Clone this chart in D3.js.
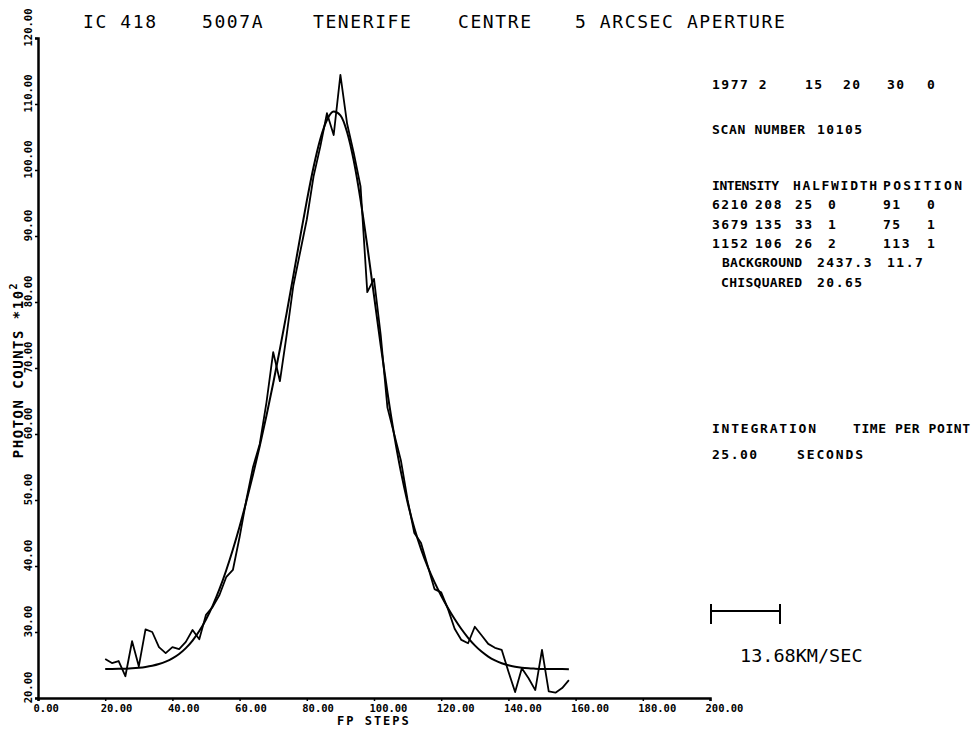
<!DOCTYPE html>
<html>
<head>
<meta charset="utf-8">
<script src="https://cdn.jsdelivr.net/npm/d3@7"></script>
<style>
  body { margin: 0; background: #fff; }
  svg { display: block; }
  text { font-family: "DejaVu Sans Mono", monospace; fill: #000; }
</style>
</head>
<body>
<svg id="chart" width="975" height="733"></svg>
<script>
// FP step positions of the scan (every 2 steps)
var fpSteps = [20, 22, 24, 26, 28, 30, 32, 34, 36, 38, 40, 42, 44, 46, 48, 50, 52, 54, 56, 58,
  60, 62, 64, 66, 68, 70, 72, 74, 76, 78, 80, 82, 84, 86, 88, 90, 92, 94, 96, 98,
  100, 102, 104, 106, 108, 110, 112, 114, 116, 118, 120, 122, 124, 126, 128, 130, 132, 134, 136, 138,
  140, 142, 144, 146, 148, 150, 152, 154, 156, 158];

var observed = [25.9, 25.3, 25.6, 23.3, 28.6, 24.8, 30.4, 30.0, 27.7, 26.8, 27.7, 27.4, 28.5, 30.3, 28.9, 32.6, 33.8, 35.6, 38.3, 39.4,
  44.4, 50.0, 55.0, 58.5, 64.8, 72.4, 68.0, 75.0, 82.5, 87.5, 92.5, 99.0, 103.5, 108.6, 105.3, 114.4, 107.0, 102.5, 97.5, 81.5,
  83.5, 75.0, 64.0, 60.0, 56.0, 50.0, 45.0, 43.5, 40.0, 36.5, 36.0, 33.5, 30.5, 28.8, 28.3, 30.8, 29.5, 28.2, 27.6, 27.3,
  24.0, 20.9, 24.5, 23.0, 21.2, 27.3, 21.0, 20.8, 21.5, 22.7];

// fitted profile (three components + background)
var fitted = [24.39, 24.40, 24.42, 24.45, 24.50, 24.58, 24.70, 24.88, 25.14, 25.50, 26.00, 26.67, 27.56, 28.70, 30.14, 31.90, 34.01, 36.48, 39.32, 42.50,
  45.99, 49.78, 53.86, 58.19, 62.78, 67.68, 72.87, 78.32, 84.00, 89.75, 95.32, 100.41, 104.65, 107.57, 108.85, 108.27, 105.72, 101.34, 95.44, 88.49,
  80.97, 73.43, 66.29, 59.87, 54.30, 49.63, 45.75, 42.55, 39.86, 37.55, 35.49, 33.64, 31.96, 30.45, 29.12, 27.98, 27.04, 26.28, 25.70, 25.26,
  24.95, 24.74, 24.59, 24.50, 24.45, 24.41, 24.39, 24.38, 24.38, 24.37];

var xTicks = [0, 20, 40, 60, 80, 100, 120, 140, 160, 180, 200];
var yTicks = [20, 30, 40, 50, 60, 70, 80, 90, 100, 110, 120];

var titleWords = ["IC 418", "5007A", "TENERIFE", "CENTRE", "5 ARCSEC APERTURE"];
var dateFields = ["1977 2", "15", "20", "30", "0"];
var tableHeader = ["INTENSITY", "HALFWIDTH", "POSITION"];
var tableRows = [
  ["6210", "208", "25", "0", "91", "0"],
  ["3679", "135", "33", "1", "75", "1"],
  ["1152", "106", "26", "2", "113", "1"]
];

var svg = d3.select("#chart");

var x = d3.scaleLinear().domain([0, 200]).range([38, 710]);
var y = d3.scaleLinear().domain([20, 120]).range([698, 38]);

// axes
var xAxis = svg.append("g")
  .attr("transform", "translate(0," + y(20) + ")")
  .call(d3.axisBottom(x).tickValues(xTicks).tickSize(3).tickFormat(d3.format(".2f")));
xAxis.select(".domain").attr("stroke-width", 2.5);
xAxis.selectAll(".tick line").attr("stroke-width", 1.5);
xAxis.selectAll("text")
  .attr("text-anchor", "start")
  .attr("x", -5).attr("y", 7).attr("dy", "0.71em")
  .style("font-size", "10.5px").style("font-weight", "bold")
  .style("font-family", "'DejaVu Sans Mono', monospace");

var yAxis = svg.append("g")
  .attr("transform", "translate(" + x(0) + ",0)")
  .call(d3.axisLeft(y).tickValues(yTicks).tickSize(3).tickFormat(d3.format(".2f")));
yAxis.select(".domain").attr("stroke-width", 2.5);
yAxis.selectAll(".tick line").attr("stroke-width", 1.5);
yAxis.selectAll("text")
  .attr("text-anchor", "middle")
  .attr("transform", "rotate(-90)")
  .attr("x", 11).attr("y", -6).attr("dy", 0)
  .style("font-size", "10.5px").style("font-weight", "bold")
  .style("font-family", "'DejaVu Sans Mono', monospace");

// axis titles
svg.append("text")
  .attr("transform", "translate(23,370) rotate(-90)")
  .attr("text-anchor", "middle")
  .style("font-size", "14px").style("font-weight", "bold").style("letter-spacing", "1.5px")
  .text("PHOTON COUNTS *10")
  .append("tspan").attr("dy", -6).style("font-size", "10px").text("2");

svg.append("text")
  .attr("x", 337).attr("y", 725)
  .style("font-size", "12px").style("font-weight", "bold").style("letter-spacing", "2px")
  .text("FP STEPS");

// lines
var pts = fpSteps.map(function (s, i) { return { s: s, obs: observed[i], fit: fitted[i] }; });

svg.append("path")
  .datum(pts)
  .attr("fill", "none").attr("stroke", "#000").attr("stroke-width", 2)
  .attr("d", d3.line().curve(d3.curveMonotoneX)
    .x(function (d) { return x(d.s); })
    .y(function (d) { return y(d.fit); }));

svg.append("path")
  .datum(pts)
  .attr("fill", "none").attr("stroke", "#000").attr("stroke-width", 1.8)
  .attr("stroke-linejoin", "round")
  .attr("d", d3.line()
    .x(function (d) { return x(d.s); })
    .y(function (d) { return y(d.obs); }));

// title
var titleX = [83, 202, 313, 458, 575];
svg.selectAll(".title")
  .data(titleWords)
  .enter().append("text")
  .attr("class", "title")
  .attr("x", function (d, i) { return titleX[i]; })
  .attr("y", 28)
  .style("font-size", "18px").style("letter-spacing", "1.6px")
  .text(function (d) { return d; });

// right-hand info panel
var panel = svg.append("g")
  .style("font-size", "13px").style("font-weight", "bold").style("letter-spacing", "1.5px");

function label(txt, px, py, w) {
  var t = panel.append("text").attr("x", px).attr("y", py).text(txt);
  if (w) t.style("letter-spacing", "0px").attr("textLength", w).attr("lengthAdjust", "spacing");
  return t;
}

var dateX = [712, 805, 843, 887, 927];
dateFields.forEach(function (d, i) { label(d, dateX[i], 89); });

label("SCAN NUMBER", 712, 134, 93);
label("10105", 817, 134);

var headX = [712, 793, 883];
var headW = [67, 84, 79];
tableHeader.forEach(function (d, i) { label(d, headX[i], 190, headW[i]); });

var colX = [712, 755, 795, 828, 883, 927];
var rowY = [209, 229, 248];
tableRows.forEach(function (row, r) {
  row.forEach(function (d, i) { label(d, colX[i], rowY[r]); });
});

label("BACKGROUND", 722, 267, 80);
label("2437.3", 817, 267);
label("11.7", 887, 267);
label("CHISQUARED", 721, 287, 81);
label("20.65", 817, 287);

label("INTEGRATION", 712, 433, 104);
label("TIME PER POINT", 853, 433, 117);
label("25.00", 712, 459);
label("SECONDS", 797, 459, 66);

// velocity scale bar
var bar = svg.append("g").attr("stroke", "#000").attr("stroke-width", 2);
bar.append("line").attr("x1", 711).attr("x2", 780).attr("y1", 611).attr("y2", 611);
bar.append("line").attr("x1", 711).attr("x2", 711).attr("y1", 604).attr("y2", 624);
bar.append("line").attr("x1", 780).attr("x2", 780).attr("y1", 604).attr("y2", 624);

svg.append("text")
  .attr("x", 740).attr("y", 662)
  .style("font-size", "18.5px")
  .text("13.68KM/SEC");
</script>
</body>
</html>
